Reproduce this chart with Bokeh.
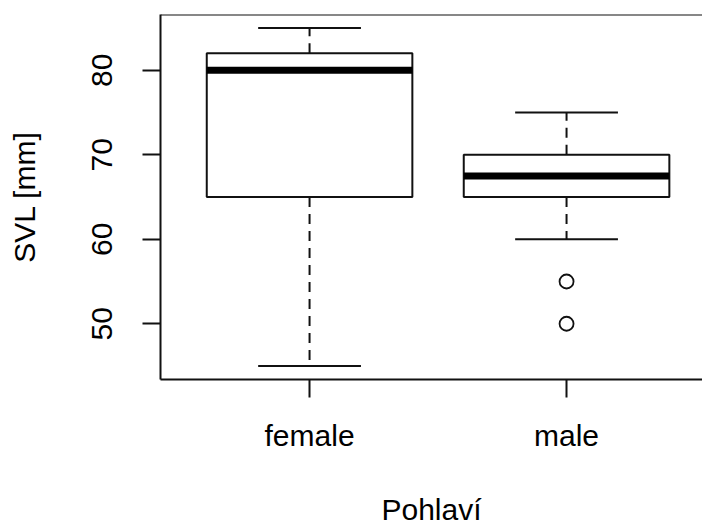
from bokeh.plotting import figure
from bokeh.models import Range1d, FixedTicker, Span
from bokeh.embed import file_html
from bokeh.resources import INLINE

# Body length (SVL, mm) by sex: five-number summaries and outliers
groups = ["female", "male"]
positions = [1, 2]
lower_whisker = [45, 60]
q1 = [65, 65]
median = [80, 67.5]
q3 = [82, 70]
upper_whisker = [85, 75]
outlier_pos = [2, 2]
outlier_val = [55, 50]
y_ticks = [50, 60, 70, 80]

FONT = "Liberation Sans"
INK = "#111111"
HALF_BOX = 0.4
HALF_STAPLE = 0.2
Y_LO, Y_HI = 43.4, 86.6

p = figure(
    width=702, height=528,
    output_backend="svg", toolbar_location=None,
    x_range=Range1d(0.42, 2.529), y_range=Range1d(Y_LO, Y_HI),
    min_border_left=160, min_border_right=0,
    min_border_top=14, min_border_bottom=147,
    background_fill_color="white", border_fill_color="white",
    outline_line_color=None,
)
p.grid.visible = False

# top edge of the plotting box
p.add_layout(Span(location=Y_HI, dimension="width", line_color=INK, line_width=2))

left_edges = [x - HALF_BOX for x in positions]
right_edges = [x + HALF_BOX for x in positions]

# boxes
p.quad(left=left_edges, right=right_edges, bottom=q1, top=q3,
       fill_color="white", line_color=INK, line_width=2)

# dashed whiskers
p.segment(x0=positions, y0=q3, x1=positions, y1=upper_whisker,
          line_color=INK, line_width=2, line_dash="10 7")
p.segment(x0=positions, y0=q1, x1=positions, y1=lower_whisker,
          line_color=INK, line_width=2, line_dash="10 7")

# whisker staples
p.segment(x0=[x - HALF_STAPLE for x in positions], y0=upper_whisker,
          x1=[x + HALF_STAPLE for x in positions], y1=upper_whisker,
          line_color=INK, line_width=2)
p.segment(x0=[x - HALF_STAPLE for x in positions], y0=lower_whisker,
          x1=[x + HALF_STAPLE for x in positions], y1=lower_whisker,
          line_color=INK, line_width=2)

# medians
p.segment(x0=left_edges, y0=median, x1=right_edges, y1=median,
          line_color="black", line_width=7)

# outliers
p.scatter(x=outlier_pos, y=outlier_val, marker="circle", size=14,
          fill_color=None, line_color=INK, line_width=1.8)

# axes
xa = p.xaxis[0]
xa.ticker = FixedTicker(ticks=positions)
xa.major_label_overrides = {pos: g for pos, g in zip(positions, groups)}
xa.axis_label = "Pohlaví"

ya = p.yaxis[0]
ya.ticker = FixedTicker(ticks=y_ticks)
ya.axis_label = "SVL [mm]"
ya.major_label_orientation = "vertical"

for ax in (xa, ya):
    ax.axis_line_color = INK
    ax.axis_line_width = 2
    ax.major_tick_line_color = INK
    ax.major_tick_line_width = 2
    ax.major_tick_out = 18
    ax.major_tick_in = 0
    ax.minor_tick_line_color = None
    ax.major_label_text_font = FONT
    ax.major_label_text_font_size = "30px"
    ax.major_label_text_color = "black"
    ax.axis_label_text_font = FONT
    ax.axis_label_text_font_size = "30px"
    ax.axis_label_text_font_style = "normal"
    ax.axis_label_text_color = "black"

xa.major_label_standoff = 21
xa.axis_label_standoff = 38
ya.major_label_standoff = 30
ya.axis_label_standoff = 49

open("out.html", "w").write(file_html(p, INLINE))
